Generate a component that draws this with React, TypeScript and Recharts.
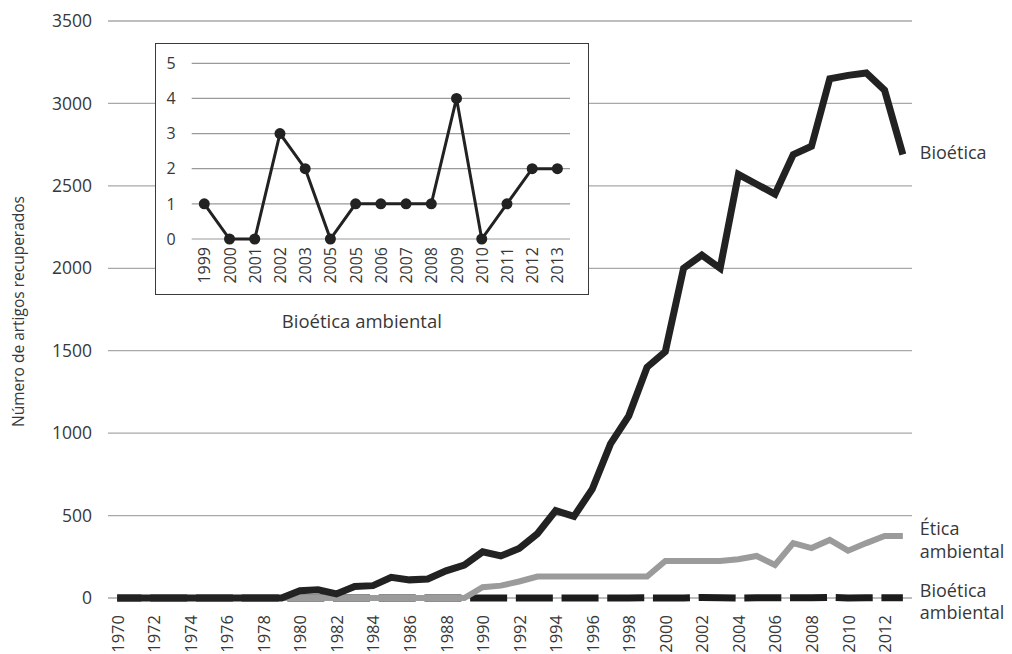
import React from "react";
import { LineChart, Line, XAxis, YAxis, CartesianGrid } from "recharts";

const FONT = '"Open Sans", "Noto Sans", sans-serif';
const TEXT = "#383838";

const years = [
  1970, 1971, 1972, 1973, 1974, 1975, 1976, 1977, 1978, 1979,
  1980, 1981, 1982, 1983, 1984, 1985, 1986, 1987, 1988, 1989,
  1990, 1991, 1992, 1993, 1994, 1995, 1996, 1997, 1998, 1999,
  2000, 2001, 2002, 2003, 2004, 2005, 2006, 2007, 2008, 2009,
  2010, 2011, 2012, 2013,
];

const bioetica = [
  0, 0, 0, 0, 0, 0, 0, 0, 0, 0,
  44, 50, 25, 70, 75, 125, 110, 115, 165, 200,
  280, 255, 300, 390, 530, 495, 660, 935, 1105, 1400,
  1495, 2000, 2080, 2000, 2570, 2510, 2450, 2690, 2740, 3150,
  3170, 3185, 3080, 2690,
];

const eticaAmbiental = [
  0, 0, 0, 0, 0, 0, 0, 0, 0, 0,
  0, 0, 0, 0, 0, 0, 0, 0, 0, 0,
  65, 75, 100, 130, 130, 130, 130, 130, 130, 130,
  225, 225, 225, 225, 235, 255, 200, 333, 303, 352,
  287, 333, 376, 376,
];

const bioeticaAmbiental = [
  0, 0, 0, 0, 0, 0, 0, 0, 0, 0,
  0, 0, 0, 0, 0, 0, 0, 0, 0, 0,
  0, 0, 0, 0, 0, 0, 0, 0, 0, 1,
  0, 0, 3, 2, 0, 1, 1, 1, 1, 4,
  0, 1, 2, 2,
];

const yTicks = [0, 500, 1000, 1500, 2000, 2500, 3000, 3500];

// inset (the source labels 2005 twice)
const insetYears = [
  "1999", "2000", "2001", "2002", "2003", "2005", "2005", "2006",
  "2007", "2008", "2009", "2010", "2011", "2012", "2013",
];
const insetValues = [1, 0, 0, 3, 2, 0, 1, 1, 1, 1, 4, 0, 1, 2, 2];
const insetTicks = [0, 1, 2, 3, 4, 5];

const mainData = years.map((y, i) => ({
  year: String(y),
  bioetica: bioetica[i],
  etica: eticaAmbiental[i],
  bioAmb: bioeticaAmbiental[i],
}));

const insetData = insetYears.map((y, i) => ({ year: y, value: insetValues[i] }));

const last = years.length - 1;

const RotTick = ({ x, y, payload, fontSize, shift }: any) => {
  const ty = y + shift;
  return (
    <text
      x={x}
      y={ty}
      transform={`rotate(-90, ${x}, ${ty})`}
      textAnchor="end"
      dominantBaseline="central"
      fill={TEXT}
      fontSize={fontSize}
      fontFamily={FONT}
    >
      {payload.value}
    </text>
  );
};

const endLabel = (lines: string[], dy: number) => (props: any) => {
  const { x, y, index } = props;
  if (index !== last) return null;
  return (
    <text x={x + 17} y={y + dy} fill={TEXT} fontSize={18} fontFamily={FONT}>
      {lines.map((l, i) => (
        <tspan key={i} x={x + 17} dy={i === 0 ? 0 : 22.5}>
          {l}
        </tspan>
      ))}
    </text>
  );
};

const YTitle = (props: any) => {
  const vb = props.viewBox || { y: 21, height: 577 };
  const cy = vb.y + vb.height / 2 + 2;
  return (
    <text
      x={18}
      y={cy}
      transform={`rotate(-90, 18, ${cy})`}
      textAnchor="middle"
      dominantBaseline="central"
      fill={TEXT}
      fontSize={15.5}
      fontFamily={FONT}
    >
      Número de artigos recuperados
    </text>
  );
};

const InsetTitle = (props: any) => {
  const vb = props.viewBox || { x: 37, y: 196, width: 378 };
  const cx = vb.x + vb.width / 2 - 19;
  return (
    <text
      x={cx}
      y={vb.y + 89}
      textAnchor="middle"
      fill={TEXT}
      fontSize={18.5}
      fontFamily={FONT}
    >
      Bioética ambiental
    </text>
  );
};

export default function App() {
  return (
    <div style={{ position: "relative", width: 1012, height: 654, background: "#fff", overflow: "hidden" }}>
      <style>{`body{margin:0;}`}</style>
      <LineChart
        width={1012}
        height={654}
        data={mainData}
        margin={{ top: 21, right: 100, left: 0, bottom: 0 }}
      >
        <CartesianGrid vertical={false} stroke="#a8a8a8" strokeWidth={1.3} />
        <XAxis
          dataKey="year"
          interval={1}
          height={56}
          padding={{ left: 9.14, right: 9.14 }}
          tickLine={false}
          axisLine={false}
          tick={(p: any) => <RotTick {...p} fontSize={16.5} shift={9} />}
        />
        <YAxis
          domain={[0, 3500]}
          ticks={yTicks}
          width={108}
          tickLine={false}
          axisLine={false}
          tickMargin={10}
          tick={{ fill: TEXT, fontSize: 17.5, fontFamily: FONT }}
          label={YTitle}
        />
        <Line
          dataKey="bioAmb"
          stroke="#1c1c1c"
          strokeWidth={7}
          strokeDasharray="37 8.7"
          strokeDashoffset={12.6}
          dot={false}
          isAnimationActive={false}
          label={endLabel(["Bioética", "ambiental"], -1)}
        />
        <Line
          dataKey="etica"
          stroke="#9b9b9b"
          strokeWidth={6}
          dot={false}
          isAnimationActive={false}
          label={endLabel(["Ética", "ambiental"], -1)}
        />
        <Line
          dataKey="bioetica"
          stroke="#222"
          strokeWidth={7}
          dot={false}
          isAnimationActive={false}
          label={endLabel(["Bioética"], 4)}
        />
      </LineChart>

      <div
        style={{
          position: "absolute",
          left: 155,
          top: 43,
          width: 434,
          height: 252,
          border: "1.5px solid #3a3a3a",
          boxSizing: "border-box",
          background: "#fff",
        }}
      />
      <div style={{ position: "absolute", left: 155, top: 43 }}>
        <LineChart
          width={434}
          height={300}
          data={insetData}
          margin={{ top: 20.3, right: 19, left: 0, bottom: 0 }}
        >
          <CartesianGrid vertical={false} stroke="#9a9a9a" strokeWidth={1.2} />
          <XAxis
            dataKey="year"
            interval={0}
            height={104}
            padding={{ left: 12.6, right: 12.6 }}
            tickLine={false}
            axisLine={false}
            tick={(p: any) => <RotTick {...p} fontSize={16} shift={0} />}
            label={InsetTitle}
          />
          <YAxis
            domain={[0, 5]}
            ticks={insetTicks}
            width={36.7}
            tickLine={false}
            axisLine={false}
            tickMargin={10}
            tick={{ fill: TEXT, fontSize: 16, fontFamily: FONT }}
          />
          <Line
            dataKey="value"
            stroke="#222"
            strokeWidth={3}
            dot={{ r: 5.5, fill: "#222", stroke: "#222", strokeWidth: 0 }}
            isAnimationActive={false}
          />
        </LineChart>
      </div>
    </div>
  );
}
